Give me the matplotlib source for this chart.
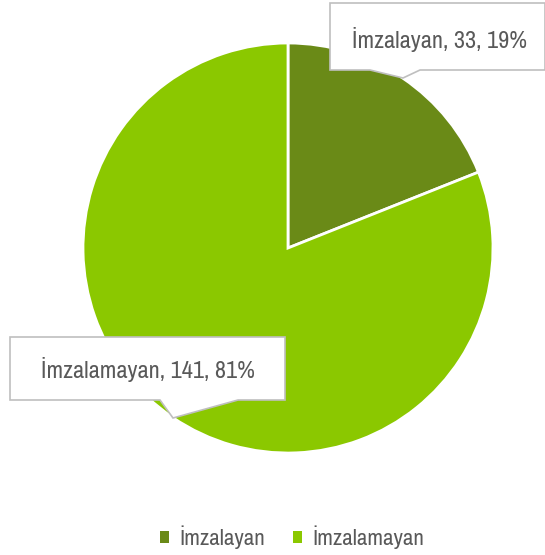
import numpy as np
import matplotlib
matplotlib.use('Agg')
import matplotlib.pyplot as plt
from matplotlib.patches import Polygon

labels = ['İmzalayan', 'İmzalamayan']
counts = [33, 141]
colors = ['#6a8a17', '#8bc800']

plt.rcParams['font.family'] = ['Archivo Narrow', 'DejaVu Sans']
text_color = '#595959'

fig = plt.figure(figsize=(5.45, 5.55), dpi=100)
ax = fig.add_axes([0, 0, 1, 1])

# pie in pixel-like coordinates (y up)
wedges, _ = ax.pie(counts, colors=colors, startangle=90, counterclock=False,
                   center=(288, 307), radius=205, frame=True,
                   wedgeprops=dict(edgecolor='white', linewidth=2))
ax.set_xlim(0, 545)
ax.set_ylim(0, 555)
ax.axis('off')

total = sum(counts)
pct = [round(c / total * 100) for c in counts]


def callout(x0, x1, y0, y1, base_a, base_b, tip, text, tx, ty):
    # rectangle with a pointer hanging from the bottom edge
    pts = [(x0, y1), (x1, y1), (x1, y0), (base_b, y0), tip, (base_a, y0), (x0, y0)]
    ax.add_patch(Polygon(pts, closed=True, facecolor='white', edgecolor='#bfbfbf',
                         linewidth=1.2, zorder=5))
    ax.text(tx, ty, text, ha='center', va='center',
            fontsize=17.5, color=text_color, zorder=6)


callout(330, 545, 485, 552, 370, 420, (403, 477),
        f'{labels[0]}, {counts[0]}, {pct[0]}%', 440, 516)
callout(10, 285, 155, 218, 160, 238, (173, 137),
        f'{labels[1]}, {counts[1]}, {pct[1]}%', 148, 186)

leg = ax.legend(wedges, labels, loc='lower center', bbox_to_anchor=(0.536, -0.027),
                ncol=2, frameon=False, fontsize=16.5, handlelength=0.4,
                handleheight=0.4, handletextpad=0.45, columnspacing=1.2,
                labelcolor=text_color)
for h in leg.legend_handles:
    h.set_edgecolor('none')

fig.savefig('out.png', dpi=100)
